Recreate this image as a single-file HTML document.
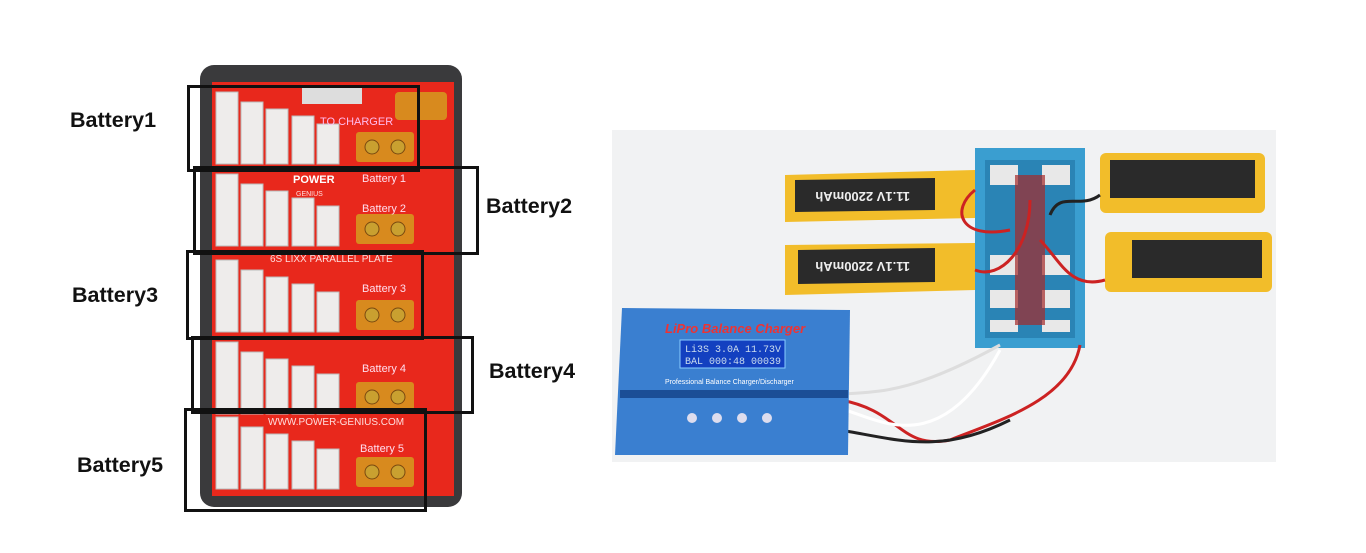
<!DOCTYPE html>
<html><head><style>
body{margin:0;width:1366px;height:553px;background:#fff;position:relative;overflow:hidden;font-family:"Liberation Sans",sans-serif}
.a{position:absolute}
.lbl{position:absolute;font-weight:bold;font-size:21.5px;color:#111}
.box{position:absolute;border:3px solid #111;box-sizing:border-box}
</style></head><body>
<svg class="a" style="left:0;top:0" width="1366" height="553">
 <rect x="200" y="65" width="262" height="442" rx="14" fill="#3a3a3c"/>
 <rect x="212" y="82" width="242" height="414" fill="#e8281c"/>
 <g id="rows"></g>
 <text x="320" y="125" font-size="11" fill="#fbe" font-family="Liberation Sans">TO CHARGER</text>
 <text x="362" y="182" font-size="11" fill="#fde" font-family="Liberation Sans">Battery 1</text>
 <text x="362" y="212" font-size="11" fill="#fde" font-family="Liberation Sans">Battery 2</text>
 <text x="293" y="183" font-size="11" fill="#fff" font-weight="bold" font-family="Liberation Sans">POWER</text>
 <text x="296" y="196" font-size="7" fill="#fdd" font-family="Liberation Sans">GENIUS</text>
 <text x="270" y="262" font-size="10" fill="#fdd" font-family="Liberation Sans">6S LIXX PARALLEL PLATE</text>
 <text x="362" y="292" font-size="11" fill="#fde" font-family="Liberation Sans">Battery 3</text>
 <text x="362" y="372" font-size="11" fill="#fde" font-family="Liberation Sans">Battery 4</text>
 <text x="268" y="425" font-size="10" fill="#fdd" font-family="Liberation Sans">WWW.POWER-GENIUS.COM</text>
 <text x="360" y="452" font-size="11" fill="#fde" font-family="Liberation Sans">Battery 5</text>
 <rect x="302" y="88" width="60" height="16" fill="#ddd"/>
 <rect x="395" y="92" width="52" height="28" rx="4" fill="#d88a1e"/>
 <rect x="612" y="130" width="664" height="332" fill="#f1f2f3"/>
 <rect x="975" y="148" width="110" height="200" fill="#3a9ed0"/>
 <rect x="985" y="160" width="90" height="178" fill="#2a84b5"/>
 <g fill="#e8e8e8"><rect x="990" y="165" width="28" height="20"/><rect x="1042" y="165" width="28" height="20"/><rect x="990" y="255" width="28" height="20"/><rect x="1042" y="255" width="28" height="20"/><rect x="990" y="290" width="28" height="18"/><rect x="1042" y="290" width="28" height="18"/><rect x="990" y="320" width="28" height="12"/><rect x="1042" y="320" width="28" height="12"/></g>
 <rect x="1015" y="175" width="30" height="150" fill="#a52a2a" opacity=".7"/>
 <g fill="#f2bd2a"><path d="M785 175 L975 170 L975 218 L785 222 Z"/><path d="M785 245 L975 243 L975 290 L785 295 Z"/><rect x="1100" y="153" width="165" height="60" rx="6"/><rect x="1105" y="232" width="167" height="60" rx="6"/></g>
 <g fill="#2a2a2a"><path d="M795 180 L935 178 L935 210 L795 212 Z"/><path d="M798 250 L935 248 L935 282 L798 284 Z"/><rect x="1110" y="160" width="145" height="38"/><rect x="1132" y="240" width="130" height="38"/></g>
 <text x="810" y="200" font-size="13" fill="#eee" font-weight="bold" font-family="Liberation Sans" transform="rotate(180 860 196)">11.1V 2200mAh</text>
 <text x="810" y="270" font-size="13" fill="#eee" font-weight="bold" font-family="Liberation Sans" transform="rotate(180 860 266)">11.1V 2200mAh</text>
 <g fill="none" stroke-width="3"><path d="M975 190 C950 210 960 240 1010 230" stroke="#c22"/><path d="M975 270 C1000 280 1030 250 1030 200" stroke="#c22"/><path d="M1100 195 C1080 210 1060 190 1050 215" stroke="#222"/><path d="M1105 280 C1070 290 1060 260 1040 240" stroke="#c22"/><path d="M840 400 C900 410 900 450 950 440 C1000 420 1070 400 1080 345" stroke="#c22"/><path d="M845 410 C880 420 940 460 1000 350" stroke="#fff"/><path d="M840 430 C900 440 940 455 1010 420" stroke="#222"/><path d="M835 395 C870 390 900 400 1000 345" stroke="#ddd"/></g>
 <path d="M622 308 L850 310 L848 455 L615 455 Z" fill="#3a7fd0"/>
 <rect x="620" y="390" width="228" height="8" fill="#1b4e96"/>
 <text x="665" y="333" font-size="13" font-weight="bold" fill="#e33" font-style="italic" font-family="Liberation Sans">LiPro Balance Charger</text>
 <rect x="680" y="340" width="105" height="28" fill="#1340c0" stroke="#8cf" stroke-width="1"/>
 <text x="685" y="352" font-size="10" fill="#cde" font-family="Liberation Mono">Li3S 3.0A 11.73V</text>
 <text x="685" y="364" font-size="10" fill="#cde" font-family="Liberation Mono">BAL 000:48 00039</text>
 <text x="665" y="384" font-size="7" fill="#fff" font-family="Liberation Sans">Professional Balance Charger/Discharger</text>
 <g fill="#dde"><circle cx="692" cy="418" r="5"/><circle cx="717" cy="418" r="5"/><circle cx="742" cy="418" r="5"/><circle cx="767" cy="418" r="5"/></g>
</svg>
<div class="box" style="left:187px;top:85px;width:233px;height:87px"></div>
<div class="box" style="left:193px;top:166px;width:286px;height:89px"></div>
<div class="box" style="left:186px;top:250px;width:238px;height:90px"></div>
<div class="box" style="left:191px;top:336px;width:283px;height:78px"></div>
<div class="box" style="left:184px;top:408px;width:243px;height:104px"></div>
<div class="lbl" style="left:70px;top:108px">Battery1</div>
<div class="lbl" style="left:486px;top:194px">Battery2</div>
<div class="lbl" style="left:72px;top:283px">Battery3</div>
<div class="lbl" style="left:489px;top:359px">Battery4</div>
<div class="lbl" style="left:77px;top:453px">Battery5</div>
<script>
var g=document.getElementById('rows'),s='';
var rows=[90,172,258,340,415];
rows.forEach(function(y){
 var h=[72,62,55,48,40],x=[216,241,266,292,317];
 for(var i=0;i<5;i++){var yy=y+72-h[i];s+='<rect x="'+x[i]+'" y="'+(yy+2)+'" width="22" height="'+h[i]+'" fill="#eeeceb" stroke="#bbb"/>';}
 s+='<rect x="356" y="'+(y+42)+'" width="58" height="30" rx="3" fill="#d88a1e"/><circle cx="372" cy="'+(y+57)+'" r="7" fill="#c9a030" stroke="#7a4a10"/><circle cx="398" cy="'+(y+57)+'" r="7" fill="#c9a030" stroke="#7a4a10"/>';
});
g.innerHTML=s;
</script>
</body></html>
